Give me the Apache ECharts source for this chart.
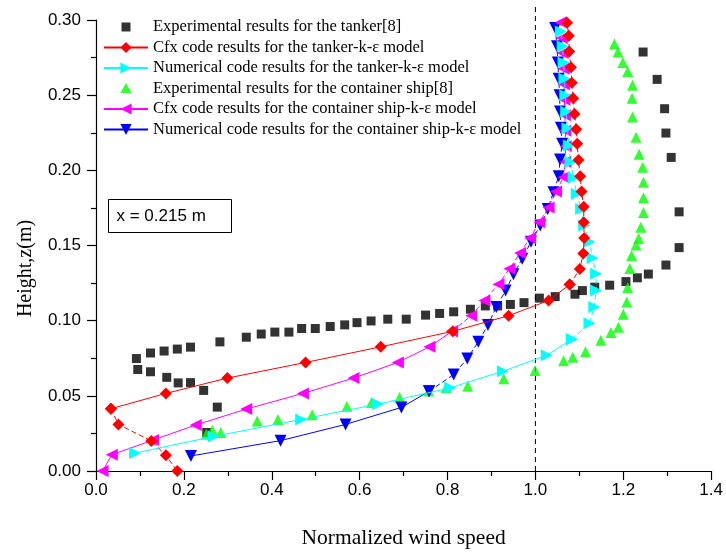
<!DOCTYPE html>
<html>
<head>
<meta charset="utf-8">
<script src="https://cdn.jsdelivr.net/npm/echarts@6/dist/echarts.min.js"></script>
<style>
  html, body { margin: 0; padding: 0; background: #fff; }
  #chart { width: 726px; height: 554px; }
</style>
</head>
<body>
<div id="chart"></div>
<script>
// legend names
const seriesNames = [
  'Experimental results for the tanker[8]',
  'Cfx code results for the tanker-k-ε model',
  'Numerical code results for the tanker-k-ε model',
  'Experimental results for the container ship[8]',
  'Cfx code results for the container ship-k-ε model',
  'Numerical code results for the container ship-k-ε model'
];

// [normalized wind speed, height]
const tankerExp = [
  [0.092, 0.0748], [0.095, 0.0675], [0.124, 0.0785], [0.124, 0.066], [0.155, 0.0798], [0.161, 0.0623],
  [0.185, 0.0811], [0.187, 0.0586], [0.215, 0.0824], [0.215, 0.0588], [0.245, 0.0536], [0.276, 0.0425],
  [0.252, 0.0256], [0.282, 0.0859], [0.342, 0.089], [0.376, 0.0911], [0.407, 0.0924], [0.439, 0.0924],
  [0.468, 0.0948], [0.499, 0.0948], [0.533, 0.0961], [0.566, 0.0972], [0.594, 0.0987], [0.626, 0.0998],
  [0.664, 0.101], [0.706, 0.101], [0.75, 0.1037], [0.782, 0.1048], [0.814, 0.1059], [0.852, 0.1076],
  [0.886, 0.1098], [0.914, 0.1098], [0.943, 0.1108], [0.974, 0.112], [1.009, 0.115], [1.045, 0.116],
  [1.09, 0.1176], [1.107, 0.12], [1.135, 0.1223], [1.169, 0.1236], [1.206, 0.126], [1.232, 0.1285],
  [1.257, 0.131], [1.297, 0.137], [1.327, 0.1486], [1.327, 0.1724], [1.309, 0.2086], [1.297, 0.2248],
  [1.294, 0.241], [1.277, 0.2605], [1.245, 0.2787]
];

const containerExp = [
  [0.251, 0.0245], [0.284, 0.0256], [0.265, 0.0271], [0.367, 0.0332], [0.414, 0.0343], [0.492, 0.0375],
  [0.571, 0.043], [0.627, 0.0455], [0.691, 0.049], [0.757, 0.0532], [0.797, 0.0555], [0.846, 0.0566],
  [0.928, 0.0614], [0.999, 0.0668], [1.064, 0.0733], [1.085, 0.0756], [1.114, 0.0794], [1.149, 0.087],
  [1.172, 0.0922], [1.189, 0.0957], [1.2, 0.1043], [1.208, 0.1124], [1.21, 0.1221], [1.215, 0.1347],
  [1.219, 0.1434], [1.229, 0.1503], [1.235, 0.1547], [1.24, 0.1622], [1.246, 0.172], [1.246, 0.1818],
  [1.246, 0.192], [1.244, 0.202], [1.236, 0.2107], [1.229, 0.222], [1.221, 0.2354], [1.22, 0.248],
  [1.221, 0.2566], [1.21, 0.2657], [1.199, 0.2718], [1.188, 0.2787], [1.18, 0.284]
];

// Cfx tanker: dashed near the ground, solid through the boundary layer, dashed above
const tankerCfxLow = [[0.034, 0.0414], [0.051, 0.031], [0.126, 0.02], [0.159, 0.0104], [0.185, 0.0]];
const tankerCfxMid = [
  [0.034, 0.0414], [0.159, 0.0516], [0.299, 0.0618], [0.477, 0.0722], [0.648, 0.0826],
  [0.812, 0.0929], [0.939, 0.1033], [1.03, 0.1134], [1.078, 0.124]
];
const tankerCfxTop = [
  [1.078, 0.124], [1.101, 0.1343], [1.109, 0.1447], [1.111, 0.155], [1.11, 0.1655], [1.11, 0.1757],
  [1.105, 0.186], [1.102, 0.196], [1.098, 0.2068], [1.095, 0.2176], [1.093, 0.2273], [1.089, 0.2375],
  [1.086, 0.248], [1.083, 0.2583], [1.081, 0.2685], [1.077, 0.279], [1.076, 0.2896], [1.072, 0.2982]
];

const tankerNumLow = [
  [0.089, 0.0119], [0.268, 0.023], [0.467, 0.0343], [0.642, 0.0445], [0.806, 0.0553],
  [0.926, 0.0664], [1.026, 0.077], [1.083, 0.0877]
];
const tankerNumTop = [
  [1.083, 0.0877], [1.123, 0.0983], [1.134, 0.1091], [1.138, 0.12], [1.138, 0.1312], [1.13, 0.1417],
  [1.123, 0.1525], [1.111, 0.1633], [1.104, 0.1742], [1.094, 0.1845], [1.087, 0.195], [1.08, 0.2055],
  [1.076, 0.2165], [1.073, 0.228], [1.07, 0.239], [1.068, 0.25], [1.066, 0.261], [1.064, 0.2718],
  [1.062, 0.2826], [1.058, 0.2924]
];

const containerCfxLow = [
  [0.015, 0.0], [0.036, 0.0108], [0.13, 0.0206], [0.227, 0.0306], [0.342, 0.0412], [0.471, 0.0516],
  [0.586, 0.0618], [0.687, 0.0722], [0.759, 0.0826], [0.81, 0.0929]
];
const containerCfxTop = [
  [0.81, 0.0929], [0.854, 0.1033], [0.884, 0.1134], [0.916, 0.1243], [0.941, 0.1345], [0.965, 0.145],
  [0.988, 0.155], [1.009, 0.1655], [1.03, 0.1753], [1.047, 0.186], [1.064, 0.1954], [1.068, 0.2057],
  [1.069, 0.216], [1.068, 0.2263], [1.067, 0.2366], [1.066, 0.247], [1.065, 0.2573], [1.064, 0.2676],
  [1.062, 0.278], [1.06, 0.288], [1.058, 0.2985]
];

const containerNumLow = [[0.216, 0.01], [0.42, 0.0202], [0.568, 0.031], [0.695, 0.0423], [0.758, 0.053]];
const containerNumTop = [
  [0.758, 0.053], [0.814, 0.0642], [0.845, 0.0748], [0.87, 0.0859], [0.892, 0.0972], [0.911, 0.1091],
  [0.932, 0.12], [0.95, 0.1308], [0.97, 0.1412], [0.99, 0.1525], [1.011, 0.1633], [1.028, 0.1742],
  [1.041, 0.1855], [1.053, 0.196], [1.056, 0.2072], [1.061, 0.2176], [1.058, 0.2284], [1.056, 0.2392],
  [1.055, 0.25], [1.053, 0.261], [1.051, 0.2718], [1.049, 0.2826], [1.045, 0.2946]
];

const refSpeed = 1.0;
const boxLabel = 'x = 0.215 m';

const chart = echarts.init(document.getElementById('chart'));
const serif = 'Liberation Serif';
const sans = 'Liberation Sans';
const dash = [5, 3];

function lineSeries(name, data, color, symbol, rotate, size, dashed, z) {
  return {
    name: name,
    type: 'line',
    data: data,
    symbol: symbol,
    symbolRotate: rotate,
    symbolSize: size,
    z: z,
    itemStyle: { color: color },
    lineStyle: { color: color, width: 1, type: dashed ? dash : 'solid' },
    emphasis: { disabled: true }
  };
}

function axisBase() {
  return {
    type: 'value',
    axisLine: { show: true, onZero: false, lineStyle: { color: '#000', width: 1.2 } },
    axisTick: { show: true, inside: false, length: 9, lineStyle: { color: '#000', width: 1.2 } },
    minorTick: { show: true, splitNumber: 2, length: 5, lineStyle: { color: '#000', width: 1.2 } },
    splitLine: { show: false },
    axisLabel: { color: '#000', fontFamily: sans, fontSize: 17 }
  };
}

const xAxis = Object.assign(axisBase(), {
  min: 0, max: 1.4, interval: 0.2,
  name: 'Normalized wind speed',
  nameLocation: 'middle',
  nameGap: 56,
  nameTextStyle: { color: '#000', fontFamily: serif, fontSize: 21.5 }
});
xAxis.axisLabel.margin = 11;
xAxis.axisLabel.formatter = (v) => v.toFixed(1);

const yAxis = Object.assign(axisBase(), {
  min: 0, max: 0.3, interval: 0.05,
  name: 'Height,z(m)',
  nameLocation: 'middle',
  nameGap: 60,
  nameTextStyle: { color: '#000', fontFamily: serif, fontSize: 20, padding: [0, 46, 0, 0] }
});
yAxis.axisLabel.margin = 15;
yAxis.axisLabel.formatter = (v) => v.toFixed(2);

// scatter legend icons: small marker centred in a 44x14 box
const legendData = seriesNames.map((name) => ({ name: name }));
legendData[0].icon = 'path://M0,0M44,14M17.5,2.5h9v9h-9z';
legendData[3].icon = 'path://M0,0M44,14M22,1.5l5.5,10h-11z';

chart.setOption({
  animation: false,
  grid: { left: 96, right: 14, top: 20, bottom: 73 },
  xAxis: xAxis,
  yAxis: yAxis,
  legend: {
    data: legendData,
    orient: 'vertical',
    left: 103,
    top: 18.5,
    padding: 0,
    itemWidth: 44,
    itemHeight: 14,
    itemGap: 3.5,
    textStyle: { color: '#000', fontFamily: serif, fontSize: 16.5 }
  },
  graphic: [{
    id: 'box',
    type: 'group',
    left: 108,
    top: 199,
    children: [
      { type: 'rect', shape: { x: 0, y: 0, width: 123, height: 33 },
        style: { fill: '#fff', stroke: '#000', lineWidth: 1 } },
      { type: 'text', x: 8, y: 17,
        style: { text: boxLabel, fill: '#000', font: '17px "Liberation Sans"', verticalAlign: 'middle' } }
    ]
  }],
  series: [
    { name: seriesNames[0], type: 'scatter', data: tankerExp, symbol: 'rect', symbolSize: 9, z: 3,
      itemStyle: { color: '#000' } },
    lineSeries(seriesNames[1], tankerCfxMid, '#ff0000', 'diamond', 0, 12, false, 8),
    lineSeries(seriesNames[1], tankerCfxLow, '#ff0000', 'diamond', 0, 12, true, 8),
    lineSeries(seriesNames[1], tankerCfxTop, '#ff0000', 'diamond', 0, 12, true, 8),
    lineSeries(seriesNames[2], tankerNumLow, '#00ffff', 'triangle', -90, 12, false, 6),
    lineSeries(seriesNames[2], tankerNumTop, '#00ffff', 'triangle', -90, 12, true, 6),
    { name: seriesNames[3], type: 'scatter', data: containerExp, symbol: 'triangle', symbolSize: 11, z: 4,
      itemStyle: { color: '#00ff00' } },
    lineSeries(seriesNames[4], containerCfxLow, '#ff00ff', 'triangle', 90, 12, false, 5),
    lineSeries(seriesNames[4], containerCfxTop, '#ff00ff', 'triangle', 90, 12, true, 5),
    lineSeries(seriesNames[5], containerNumLow, '#0000ff', 'triangle', 180, 12, false, 4),
    lineSeries(seriesNames[5], containerNumTop, '#0000ff', 'triangle', 180, 12, true, 4)
  ]
});

// dashed reference line at wind speed 1.0, reaching a little above the plot top
const p0 = chart.convertToPixel({ gridIndex: 0 }, [refSpeed, 0]);
const p1 = chart.convertToPixel({ gridIndex: 0 }, [refSpeed, 0.3]);
chart.setOption({
  graphic: [{
    id: 'ref',
    type: 'line',
    z: 2,
    silent: true,
    shape: { x1: p0[0], y1: p0[1], x2: p1[0], y2: p1[1] - 15 },
    style: { stroke: '#000', lineWidth: 1, lineDash: [5, 4] }
  }]
});
</script>
</body>
</html>
